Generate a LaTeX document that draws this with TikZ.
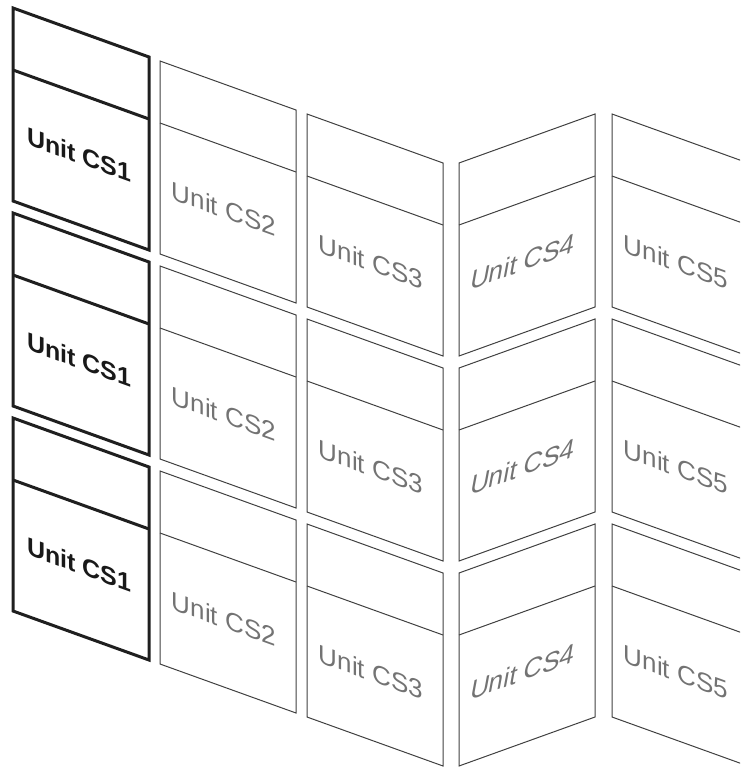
\documentclass[tikz,border=0pt]{standalone}
\usepackage{fontspec}
\setmainfont{Liberation Sans}
\newcommand{\drawpanel}[7]{%
  \draw[#1] (#2,#3) -- (#2+136,#4) -- (#2+136,#4+193) -- (#2,#3+193) -- cycle;
  \draw[#1] (#2,#3+62) -- (#2+136,#4+62);
  \node[#5] (#6) at (#2+64,{(#3+#4)/2+123}) {#7};
}
\begin{document}
\begin{tikzpicture}[x=1pt,y=-1pt,
  thickpanel/.style={draw=black!88, line width=3pt, line join=miter},
  thinpanel/.style={draw=black!75, line width=1pt},
  boldlabel/.style={font=\bfseries\fontsize{25}{25}\selectfont, text=black!90, inner sep=0pt, xshift=2.5pt, yshift=1pt, yslant=-0.36, transform shape},
  greylabel/.style={font=\fontsize{26}{26}\selectfont, text=black!55, inner sep=0pt, yslant=-0.36, transform shape},
  uplabel/.style={font=\fontsize{26}{26}\selectfont, text=black!55, inner sep=0pt, yslant=0.36, xslant=0.2, transform shape}]
\useasboundingbox (0,0) rectangle (740,768);
\clip (0,0) rectangle (740,768);
\foreach \r in {0,1,2} {
  \pgfmathsetmacro{\dy}{205*\r}
  \drawpanel{thickpanel}{13}{8+\dy}{57+\dy}{boldlabel}{csone\r}{Unit CS1}
  \drawpanel{thinpanel}{160}{61+\dy}{110+\dy}{greylabel}{cstwo\r}{Unit CS2}
  \drawpanel{thinpanel}{307}{114+\dy}{163+\dy}{greylabel}{csthree\r}{Unit CS3}
  \drawpanel{thinpanel}{459}{163+\dy}{114+\dy}{uplabel}{csfour\r}{Unit CS4}
  \drawpanel{thinpanel}{612}{114+\dy}{163+\dy}{greylabel}{csfive\r}{Unit CS5}
}
\end{tikzpicture}
\end{document}
